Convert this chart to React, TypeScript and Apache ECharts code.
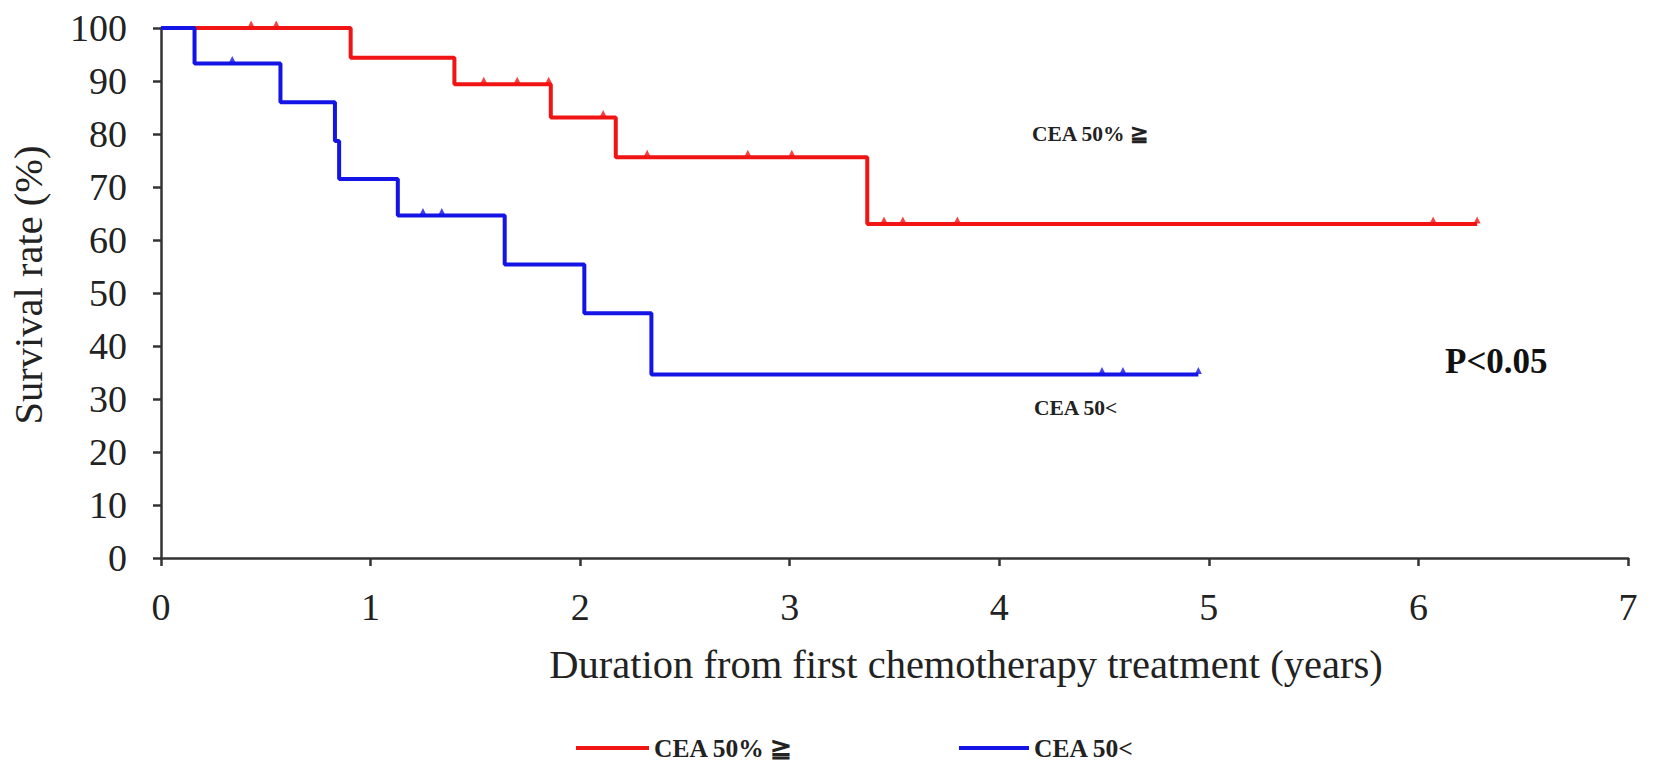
import React, { useEffect, useRef } from 'react';
import * as echarts from 'echarts';

// Kaplan-Meier steps (years, survival %)
const redName = 'CEA 50% ≧';
const redTimes = [0, 0.905, 1.4, 1.86, 2.17, 3.37, 6.28];
const redSurv = [100, 94.4, 89.4, 83.1, 75.6, 63.0, 63.0];
const redCensor = [0.43, 0.55, 1.54, 1.7, 1.85, 2.11, 2.32, 2.8, 3.01, 3.45, 3.54, 3.8, 6.07, 6.28];

const blueName = 'CEA 50<';
const blueTimes = [0, 0.16, 0.57, 0.83, 0.85, 1.13, 1.64, 2.02, 2.34, 4.95];
const blueSurv = [100, 93.3, 86.0, 78.7, 71.5, 64.6, 55.4, 46.2, 34.6, 34.6];
const blueCensor = [0.34, 1.25, 1.34, 4.49, 4.59, 4.95];

const yTicks = { min: 0, max: 100, step: 10 };
const xTicks = { min: 0, max: 7, step: 1 };

const RED = '#f01414';
const BLUE = '#1414e6';
const FONT = '"Liberation Serif", "Times New Roman", serif';

// survival value at a given time (step function)
const survAt = (times: number[], surv: number[], t: number) => {
  let v = surv[0];
  for (let i = 0; i < times.length; i++) {
    if (times[i] <= t) v = surv[i];
  }
  return v;
};

const censorMark = 'path://M0,10 L5,0 L10,10 Z';

const App: React.FC = () => {
  const chartRef = useRef<HTMLDivElement>(null);

  useEffect(() => {
    if (!chartRef.current) return;
    const chart = echarts.init(chartRef.current, undefined, { renderer: 'svg' });

    const legendText = { fontFamily: FONT, fontSize: 25.5, fontWeight: 'bold' as const, color: '#222' };

    const option: echarts.EChartsOption = {
      animation: false,
      backgroundColor: '#ffffff',
      grid: { left: 159, right: 26, top: 28, bottom: 221 },
      legend: [
        {
          data: [redName],
          left: 571,
          top: 730,
          icon: 'rect',
          itemWidth: 73,
          itemHeight: 4,
          textStyle: legendText,
        },
        {
          data: [blueName],
          left: 954,
          top: 730,
          icon: 'rect',
          itemWidth: 70,
          itemHeight: 4,
          textStyle: legendText,
        },
      ],
      xAxis: {
        type: 'value',
        min: xTicks.min,
        max: xTicks.max,
        interval: xTicks.step,
        name: 'Duration from first chemotherapy treatment (years)',
        nameLocation: 'middle',
        nameGap: 86,
        nameTextStyle: { fontFamily: FONT, fontSize: 40.5, color: '#222', padding: [0, 0, 0, 143] },
        axisLine: { lineStyle: { color: '#333', width: 2.5 } },
        axisTick: { length: 8, lineStyle: { color: '#333', width: 2.5 } },
        axisLabel: { fontFamily: FONT, fontSize: 38, color: '#222', margin: 30 },
        splitLine: { show: false },
      },
      yAxis: {
        type: 'value',
        min: yTicks.min,
        max: yTicks.max,
        interval: yTicks.step,
        name: 'Survival rate (%)',
        nameLocation: 'middle',
        nameRotate: 90,
        nameGap: 112,
        nameTextStyle: { fontFamily: FONT, fontSize: 40.5, color: '#222', padding: [0, 0, 0, 16] },
        axisLine: { lineStyle: { color: '#333', width: 2.5 } },
        axisTick: { length: 8, lineStyle: { color: '#333', width: 2.5 } },
        axisLabel: { fontFamily: FONT, fontSize: 38, color: '#222', margin: 34 },
        splitLine: { show: false },
      },
      series: [
        {
          name: redName,
          type: 'line',
          step: 'end',
          showSymbol: false,
          color: RED,
          lineStyle: { color: RED, width: 4 },
          data: redTimes.map((t, i) => [t, redSurv[i]]),
          z: 3,
        },
        {
          name: blueName,
          type: 'line',
          step: 'end',
          showSymbol: false,
          color: BLUE,
          lineStyle: { color: BLUE, width: 4 },
          data: blueTimes.map((t, i) => [t, blueSurv[i]]),
          z: 4,
        },
        {
          name: 'red-censor',
          type: 'scatter',
          symbol: censorMark,
          symbolSize: [7, 7],
          symbolOffset: [0, -4],
          itemStyle: { color: RED },
          data: redCensor.map((t) => [t, survAt(redTimes, redSurv, t)]),
          z: 3,
        },
        {
          name: 'blue-censor',
          type: 'scatter',
          symbol: censorMark,
          symbolSize: [7, 7],
          symbolOffset: [0, -4],
          itemStyle: { color: BLUE },
          data: blueCensor.map((t) => [t, survAt(blueTimes, blueSurv, t)]),
          z: 4,
        },
      ],
      graphic: [
        {
          type: 'text',
          left: 1032,
          top: 123,
          style: { text: 'CEA 50% ≧', font: `bold 21.5px ${FONT}`, fill: '#222' },
        },
        {
          type: 'text',
          left: 1034,
          top: 397,
          style: { text: 'CEA 50<', font: `bold 21.5px ${FONT}`, fill: '#222' },
        },
        {
          type: 'text',
          left: 1445,
          top: 344,
          style: { text: 'P<0.05', font: `bold 35px ${FONT}`, fill: '#111' },
        },
      ],
    };

    chart.setOption(option);

    return () => {
      chart.dispose();
    };
  }, []);

  return (
    <div
      ref={chartRef}
      style={{ position: 'fixed', left: 0, top: 0, width: '1654px', height: '779px', background: '#fff' }}
    />
  );
};

export default App;
